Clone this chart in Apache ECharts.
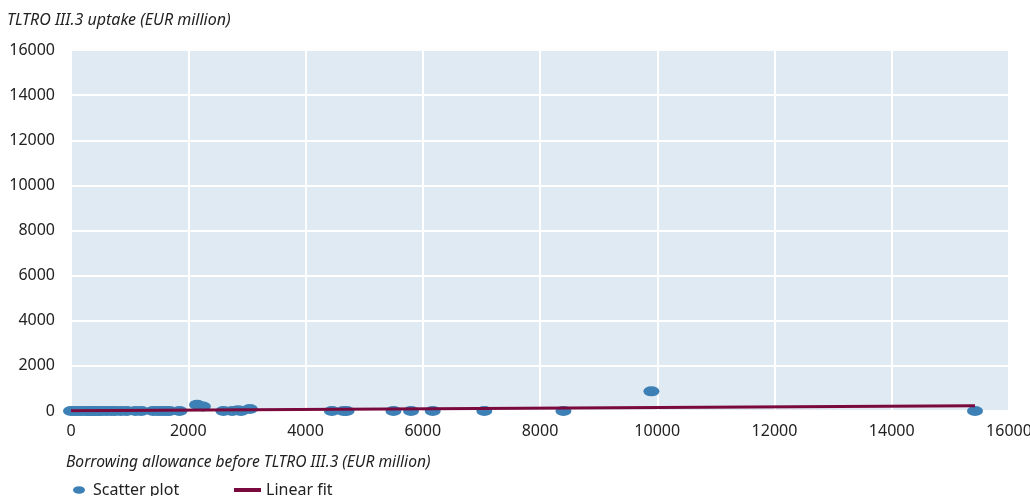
<!DOCTYPE html>
<html>
<head>
<meta charset="utf-8">
<script src="https://cdn.jsdelivr.net/npm/echarts@6/dist/echarts.min.js"></script>
<style>html,body{margin:0;padding:0;background:#fff}#c{width:1030px;height:496px}</style>
</head>
<body>
<div id="c"></div>
<script>
// Borrowing allowance (x) and TLTRO III.3 uptake (y), EUR million
const allowance = [0, 60, 120, 180, 250, 300, 340, 380, 420, 470, 520, 600, 680, 750, 850, 950, 1100, 1200, 1400, 1480, 1550, 1620, 1680, 1850, 2150, 2250, 2600, 2750, 2850, 2900, 3050, 4450, 4650, 4700, 5500, 5800, 6170, 7050, 8400, 9900, 15420];
const uptake    = [0, 0, 0, 0, 0, 0, 0, 0, 0, 0, 0, 0, 0, 0, 0, 0, 0, 0, 0, 0, 0, 0, 0, 0, 280, 200, 0, 0, 30, 0, 90, 0, 0, 0, 0, 0, 0, 0, 0, 870, 0];
const fitX = [0, 15420];
const fitY = [10, 230];
const xTicks = [0, 2000, 4000, 6000, 8000, 10000, 12000, 14000, 16000];
const yTicks = [0, 2000, 4000, 6000, 8000, 10000, 12000, 14000, 16000];

const scatterData = allowance.map((x, i) => [x, uptake[i]]);
const fitData = fitX.map((x, i) => [x, fitY[i]]);
const ellipse = 'path://M0,5a8,5 0 1,0 16,0a8,5 0 1,0 -16,0z';
const font = '"Noto Sans", sans-serif';
const textColor = '#222';

const chart = echarts.init(document.getElementById('c'), null, {renderer: 'canvas'});
chart.setOption({
  animation: false,
  textStyle: {fontFamily: font},
  title: [
    {text: 'TLTRO III.3 uptake (EUR million)', left: 2, top: 7,
     textStyle: {fontFamily: font, fontStyle: 'italic', fontWeight: 'normal', fontSize: 16, color: textColor}},
    {text: 'Borrowing allowance before TLTRO III.3 (EUR million)', left: 61, top: 450,
     textStyle: {fontFamily: font, fontStyle: 'italic', fontWeight: 'normal', fontSize: 15.6, color: textColor}}
  ],
  grid: {left: 71, right: 21, top: 50, bottom: 85, show: true, backgroundColor: '#e0eaf3', borderWidth: 0,
         containLabel: false, outerBoundsMode: 'none'},
  xAxis: {
    type: 'value', min: 0, max: 16000, interval: 2000,
    axisLine: {show: false}, axisTick: {show: false},
    splitLine: {show: true, lineStyle: {color: '#ffffff', width: 2}},
    axisLabel: {fontFamily: font, fontSize: 16, color: textColor, margin: 12,
      formatter: v => xTicks.includes(v) ? String(v) : ''}
  },
  yAxis: {
    type: 'value', min: 0, max: 16000, interval: 2000,
    axisLine: {show: false}, axisTick: {show: false},
    splitLine: {show: true, lineStyle: {color: '#ffffff', width: 2}},
    axisLabel: {fontFamily: font, fontSize: 16, color: textColor, margin: 16,
      formatter: v => yTicks.includes(v) ? String(v) : ''}
  },
  legend: [
    {data: [{name: 'Scatter plot', icon: ellipse}], left: 68, top: 477, itemWidth: 12, itemHeight: 8, itemGap: 0,
     textStyle: {fontFamily: font, fontSize: 16, color: textColor, padding: [0, 0, 0, 3]}},
    {data: [{name: 'Linear fit', icon: 'rect'}], left: 229, top: 477, itemWidth: 27, itemHeight: 4,
     textStyle: {fontFamily: font, fontSize: 16, color: textColor}}
  ],
  series: [
    {name: 'Scatter plot', type: 'scatter', data: scatterData, symbol: ellipse, symbolSize: [16, 10],
     itemStyle: {color: '#3d80b6', opacity: 1}, z: 2},
    {name: 'Linear fit', type: 'line', data: fitData, showSymbol: false, symbol: 'none',
     lineStyle: {color: '#7a0a3d', width: 3}, itemStyle: {color: '#7a0a3d'}, z: 3}
  ]
});
</script>
</body>
</html>
